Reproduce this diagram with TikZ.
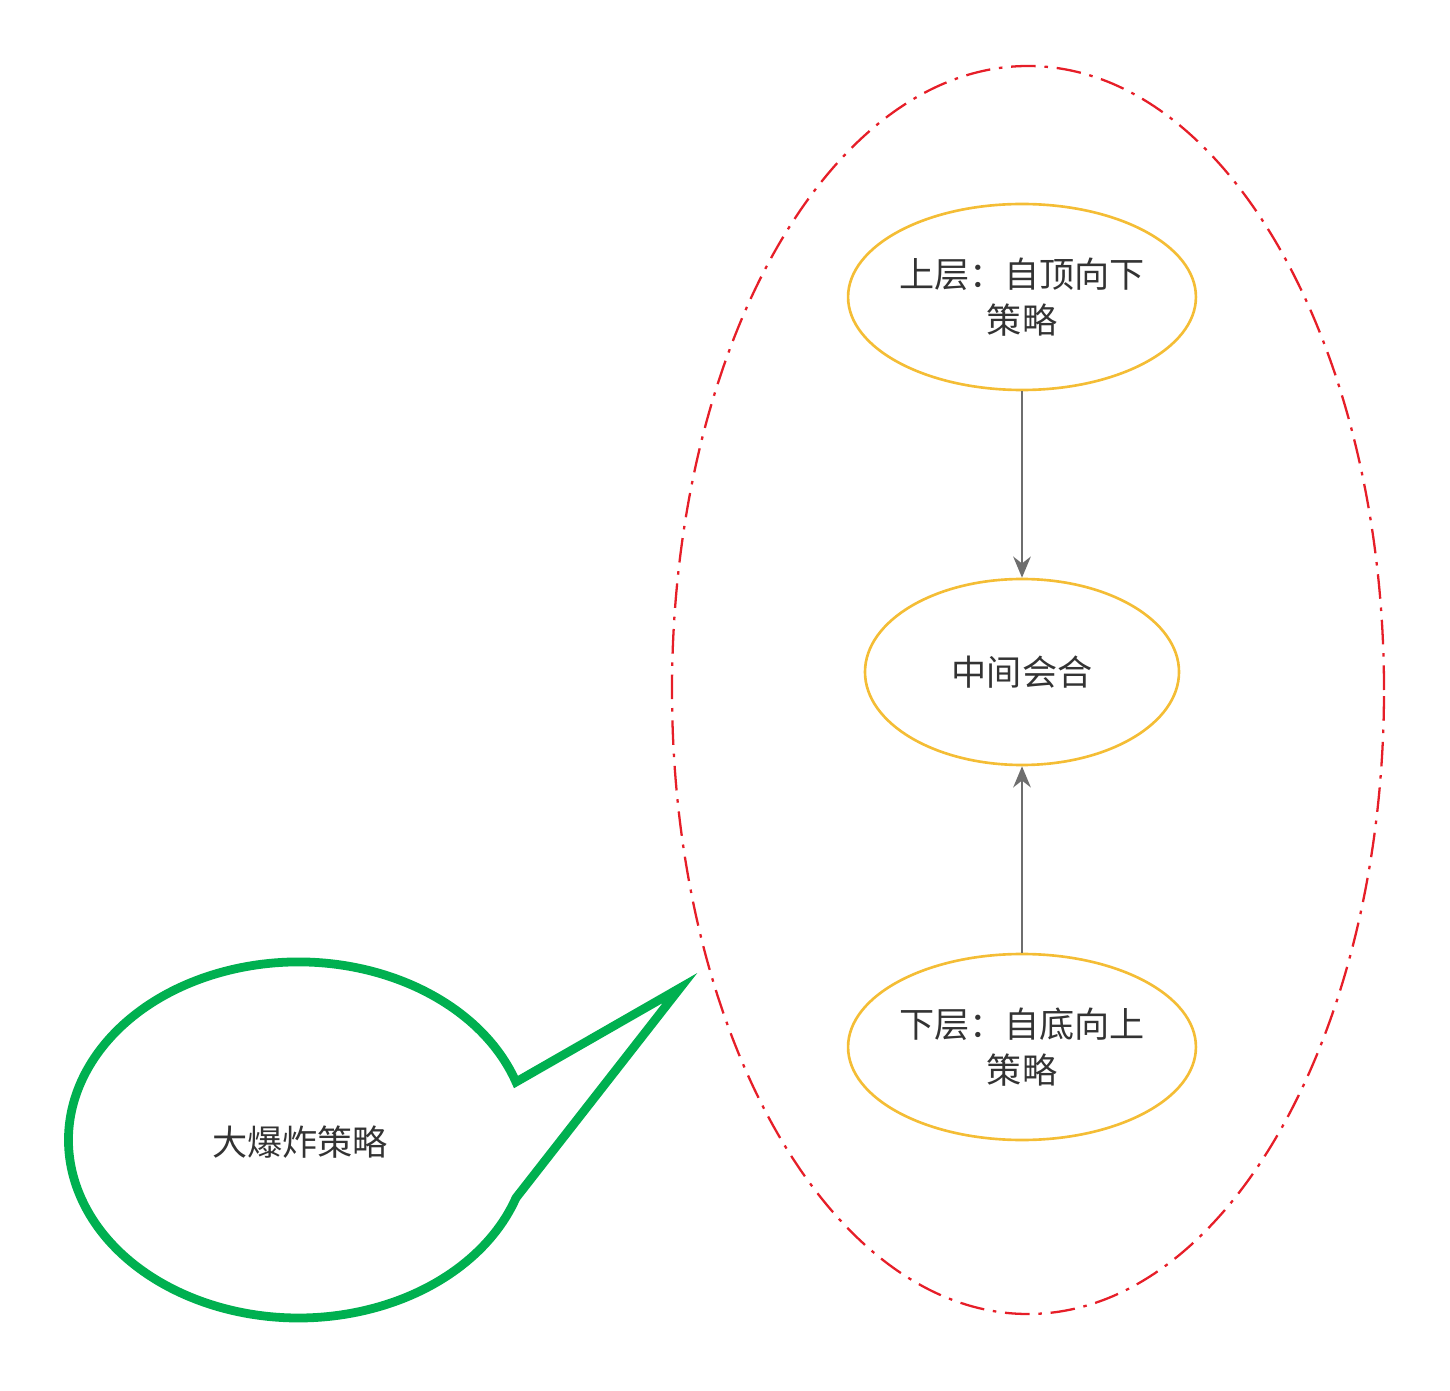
\documentclass[tikz,border=0pt]{standalone}
\usepackage{fontspec}
\newfontfamily\cjk{Noto Sans CJK SC}
\usetikzlibrary{shapes.geometric,arrows.meta}
\begin{document}
\begin{tikzpicture}[x=0.02cm,y=-0.02cm,
  yel/.style={ellipse,draw={rgb,255:red,244;green,189;blue,53},line width=1.5pt,minimum width=314*0.02cm,minimum height=186*0.02cm,inner sep=0pt,align=center,font=\cjk\fontsize{20}{26}\selectfont,text={rgb,255:red,51;green,51;blue,51}},
  conn/.style={draw={rgb,255:red,110;green,110;blue,110},line width=1.3pt,-{Stealth[length=12pt,width=10pt]}}]
\useasboundingbox (0,0) rectangle (1450,1391);
\node[ellipse,draw={rgb,255:red,230;green,30;blue,40},line width=1.3pt,dash pattern=on 14pt off 5pt on 2pt off 5pt,minimum width=712*0.02cm,minimum height=1248*0.02cm] (outer) at (1028,690) {};
\node[yel] (top) at (1022,297) {上层：自顶向下\\策略};
\node[yel] (mid) at (1022,672) {中间会合};
\node[yel] (bot) at (1022,1047) {下层：自底向上\\策略};
\draw[conn] (top) -- (mid);
\draw[conn] (bot) -- (mid);
\coordinate (tip) at (680,988);
\draw[draw={rgb,255:red,0;green,176;blue,80},line width=5pt,line join=miter] (516,1082) arc[start angle=-19,end angle=-341,x radius=230,y radius=178] -- (tip) -- cycle;
\node[font=\cjk\fontsize{20}{26}\selectfont,text={rgb,255:red,51;green,51;blue,51}] (cl) at (300,1142) {大爆炸策略};
\end{tikzpicture}
\end{document}
